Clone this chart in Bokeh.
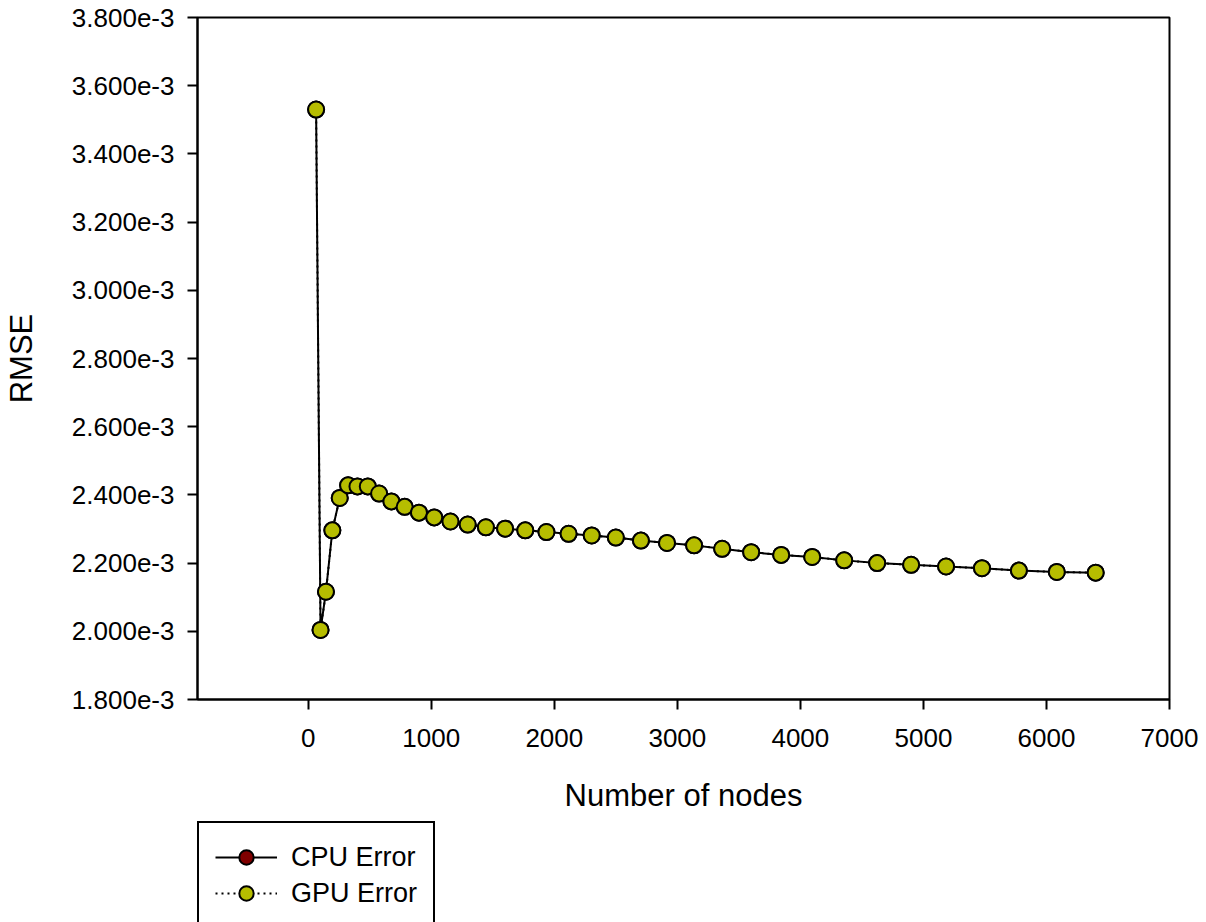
from bokeh.plotting import figure
from bokeh.models import (ColumnDataSource, FixedTicker, CustomJSTickFormatter,
                          Legend, LegendItem, Range1d)
from bokeh.layouts import column
from bokeh.embed import file_html
from bokeh.resources import INLINE

# ---- data ----
nodes = [64, 100, 144, 196, 256, 324, 400, 484, 576, 676, 784, 900, 1024, 1156,
         1296, 1444, 1600, 1764, 1936, 2116, 2304, 2500, 2704, 2916, 3136, 3364,
         3600, 3844, 4096, 4356, 4624, 4900, 5184, 5476, 5776, 6084, 6400]
cpu_error = [3.530e-3, 2.004e-3, 2.116e-3, 2.296e-3, 2.391e-3, 2.428e-3, 2.425e-3,
             2.425e-3, 2.404e-3, 2.381e-3, 2.365e-3, 2.348e-3, 2.334e-3, 2.322e-3,
             2.313e-3, 2.305e-3, 2.301e-3, 2.296e-3, 2.291e-3, 2.286e-3, 2.281e-3,
             2.275e-3, 2.266e-3, 2.259e-3, 2.252e-3, 2.242e-3, 2.232e-3, 2.224e-3,
             2.218e-3, 2.208e-3, 2.200e-3, 2.195e-3, 2.190e-3, 2.185e-3, 2.178e-3,
             2.174e-3, 2.172e-3]
gpu_error = [3.530e-3, 2.004e-3, 2.116e-3, 2.296e-3, 2.391e-3, 2.428e-3, 2.425e-3,
             2.425e-3, 2.404e-3, 2.381e-3, 2.365e-3, 2.348e-3, 2.334e-3, 2.322e-3,
             2.313e-3, 2.305e-3, 2.301e-3, 2.296e-3, 2.291e-3, 2.286e-3, 2.281e-3,
             2.275e-3, 2.266e-3, 2.259e-3, 2.252e-3, 2.242e-3, 2.232e-3, 2.224e-3,
             2.218e-3, 2.208e-3, 2.200e-3, 2.195e-3, 2.190e-3, 2.185e-3, 2.178e-3,
             2.174e-3, 2.172e-3]
x_ticks = [0, 1000, 2000, 3000, 4000, 5000, 6000, 7000]
y_ticks = [1.8e-3, 2.0e-3, 2.2e-3, 2.4e-3, 2.6e-3, 2.8e-3, 3.0e-3, 3.2e-3,
           3.4e-3, 3.6e-3, 3.8e-3]
series_labels = ["CPU Error", "GPU Error"]

FONT = "Liberation Sans"
CPU_FILL = "#800000"
GPU_FILL = "#b6bd00"

# ---- main chart ----
p = figure(width=1206, height=818, output_backend="svg", toolbar_location=None,
           x_range=Range1d(-900, 7000), y_range=Range1d(1.8e-3, 3.8e-3),
           min_border_left=196, min_border_right=37, min_border_top=17,
           min_border_bottom=119)
p.background_fill_color = "white"
p.border_fill_color = "white"
p.grid.visible = False
p.outline_line_color = "black"
p.outline_line_width = 2

for ax in (p.xaxis[0], p.yaxis[0]):
    ax.major_tick_out = 10
    ax.major_tick_in = 0
    ax.minor_tick_out = 0
    ax.minor_tick_in = 0
    ax.axis_line_width = 2
    ax.major_tick_line_width = 2
    ax.axis_line_color = "black"
    ax.major_tick_line_color = "black"
    ax.major_label_text_font = FONT
    ax.major_label_text_font_size = "26px"
    ax.major_label_text_color = "black"
    ax.axis_label_text_font = FONT
    ax.axis_label_text_font_size = "31px"
    ax.axis_label_text_font_style = "normal"
    ax.axis_label_text_color = "black"

p.xaxis.ticker = FixedTicker(ticks=x_ticks)
p.yaxis.ticker = FixedTicker(ticks=y_ticks)
p.yaxis.formatter = CustomJSTickFormatter(code="return (tick*1000).toFixed(3) + 'e-3';")
p.xaxis.axis_label = "Number of nodes"
p.yaxis.axis_label = "RMSE"
p.xaxis.major_label_standoff = 19
p.yaxis.major_label_standoff = 13
p.xaxis.axis_label_standoff = 28
p.yaxis.axis_label_standoff = 30

src = ColumnDataSource(data=dict(x=nodes, cpu=cpu_error, gpu=gpu_error))

p.line("x", "cpu", source=src, line_color="black", line_width=2)
p.scatter("x", "cpu", source=src, size=16, fill_color=CPU_FILL,
          line_color="black", line_width=2)
p.line("x", "gpu", source=src, line_color="black", line_width=2, line_dash="2 4")
p.scatter("x", "gpu", source=src, size=16, fill_color=GPU_FILL,
          line_color="black", line_width=2)

# ---- legend strip below the chart ----
lg = figure(width=1206, height=104, output_backend="svg", toolbar_location=None,
            x_axis_type=None, y_axis_type=None,
            x_range=Range1d(0, 1), y_range=Range1d(0, 1),
            min_border_left=196, min_border_right=0, min_border_top=3,
            min_border_bottom=0)
lg.grid.visible = False
lg.outline_line_color = None
lg.background_fill_color = "white"
lg.border_fill_color = "white"
# swatch renderers: points placed outside the visible range
swatch = ColumnDataSource(data=dict(x=[-5, -4], y=[-5, -4]))
l1 = lg.line("x", "y", source=swatch, line_color="black", line_width=2)
m1 = lg.scatter("x", "y", source=swatch, size=16, fill_color=CPU_FILL,
                line_color="black", line_width=2)
l2 = lg.line("x", "y", source=swatch, line_color="black", line_width=2, line_dash="2 4")
m2 = lg.scatter("x", "y", source=swatch, size=16, fill_color=GPU_FILL,
                line_color="black", line_width=2)

legend = Legend(items=[LegendItem(label=series_labels[0], renderers=[l1, m1]),
                       LegendItem(label=series_labels[1], renderers=[l2, m2])],
                location="top_left", orientation="vertical")
legend.border_line_color = "black"
legend.border_line_alpha = 1.0
legend.border_line_width = 2
legend.background_fill_alpha = 1.0
legend.label_text_font = FONT
legend.label_text_font_size = "27px"
legend.label_text_color = "black"
legend.padding = 16
legend.margin = 0
legend.spacing = 0
legend.glyph_width = 62
legend.glyph_height = 36
legend.label_height = 36
legend.label_standoff = 14
lg.add_layout(legend, "center")

open("out.html", "w").write(file_html(column(p, lg, spacing=0), INLINE))
